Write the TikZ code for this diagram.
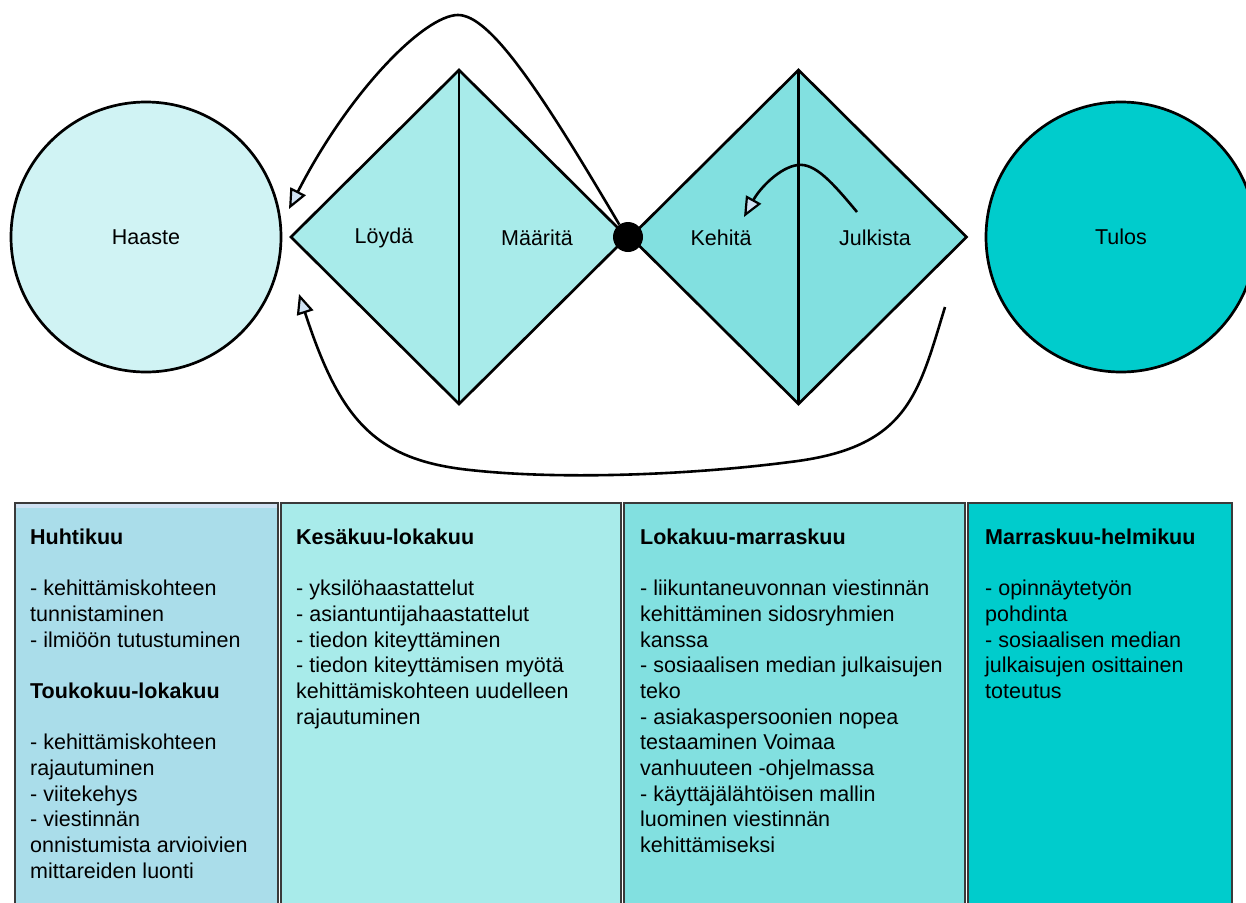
\documentclass[tikz,border=0pt]{standalone}
\usepackage{fontspec}
\setmainfont{Liberation Sans}
\usetikzlibrary{shapes.geometric,arrows.meta}
\definecolor{haastecol}{HTML}{D0F3F4}
\definecolor{loydacol}{HTML}{A8EBEA}
\definecolor{kehitacol}{HTML}{82E0E0}
\definecolor{tuloscol}{HTML}{00CCCC}
\definecolor{box1col}{HTML}{AADDEA}
\definecolor{stripcol}{HTML}{CFE2F3}
\definecolor{tipcol}{HTML}{CFE2F3}
\definecolor{bordercol}{HTML}{3A3A3A}
\tikzset{
  big/.style={font=\fontsize{21.5}{25.7}\selectfont},
  ball/.style={circle, draw=black, line width=2.7pt, minimum size=270pt, inner sep=0pt, outer sep=0pt, big},
  dia/.style={diamond, draw=black, line width=2.7pt, minimum width=336pt, minimum height=334pt, inner sep=0pt, outer sep=0pt},
  divider/.style={line width=2.7pt},
  lbl/.style={big, inner sep=0pt},
  flow/.style={line width=2.6pt, -{Triangle[length=20pt,width=17pt,fill=tipcol,line width=2.2pt]}, line join=miter},
  panel/.style={draw=bordercol, line width=1.3pt, anchor=north west, inner sep=0pt, outer sep=0pt, minimum height=420pt},
  ptext/.style={big, anchor=north west, align=left, inner sep=0pt},
}
\begin{document}
\begin{tikzpicture}[x=1pt,y=-1pt]
\useasboundingbox (0,0) rectangle (1246,902);
\clip (0,0) rectangle (1246,902);
\fill[white] (0,0) rectangle (1246,902);

% circles
\node[ball, fill=haastecol] (haaste) at (146,237) {Haaste};
\node[ball, fill=tuloscol] (tulos) at (1121,237) {Tulos};

% diamonds
\node[dia, fill=loydacol] (d1) at (459,237) {};
\draw[divider] (d1.north) -- (d1.south);
\node[dia, fill=kehitacol] (d2) at (798.5,237) {};
\draw[divider] (d2.north) -- (d2.south);
\node[circle, fill=black, minimum size=30pt, inner sep=0pt] (dot) at (628,237) {};

\node[lbl] (loyda) at (384,238) {Löydä};
\node[lbl] (maarita) at (537,238) {Määritä};
\node[lbl] (kehita) at (721,238) {Kehitä};
\node[lbl] (julkista) at (875,238) {Julkista};

% arrows
\coordinate (toptip) at (289,209);
\coordinate (bottail) at (945,307);
\coordinate (bottip) at (299,294);
\coordinate (smalltail) at (857,212);
\coordinate (smalltip) at (744,217);

\draw[flow] (dot.125) .. controls (540,90) and (490,15) .. (458,15)
  .. controls (425,15) and (350,90) .. (toptip);
\draw[flow] (bottail) .. controls (918,395) and (908,448) .. (790,462)
  .. controls (690,475) and (560,480) .. (470,470)
  .. controls (375,460) and (340,420) .. (bottip);
\draw[flow] (smalltail) .. controls (832,182) and (815,163) .. (798,165)
  .. controls (780,167) and (760,188) .. (smalltip);

% bottom panels
\node[panel, fill=box1col, minimum width=263pt] (p1) at (15,503) {};
\fill[stripcol] (15.8,503.8) rectangle (277.2,507.5);
\node[panel, fill=loydacol, minimum width=340pt] (p2) at (281,503) {};
\node[panel, fill=kehitacol, minimum width=341pt] (p3) at (624,503) {};
\node[panel, fill=tuloscol, minimum width=264pt] (p4) at (968,503) {};

\node[ptext] (t1) at (30,528.5) {\textbf{Huhtikuu}\\[25.7pt]
- kehittämiskohteen\\
tunnistaminen\\
- ilmiöön tutustuminen\\[25.7pt]
\textbf{Toukokuu-lokakuu}\\[25.7pt]
- kehittämiskohteen\\
rajautuminen\\
- viitekehys\\
- viestinnän\\
onnistumista arvioivien\\
mittareiden luonti};

\node[ptext] (t2) at (296,528.5) {\textbf{Kesäkuu-lokakuu}\\[25.7pt]
- yksilöhaastattelut\\
- asiantuntijahaastattelut\\
- tiedon kiteyttäminen\\
- tiedon kiteyttämisen myötä\\
kehittämiskohteen uudelleen\\
rajautuminen};

\node[ptext] (t3) at (640,528.5) {\textbf{Lokakuu-marraskuu}\\[25.7pt]
- liikuntaneuvonnan viestinnän\\
kehittäminen sidosryhmien\\
kanssa\\
- sosiaalisen median julkaisujen\\
teko\\
- asiakaspersoonien nopea\\
testaaminen Voimaa\\
vanhuuteen -ohjelmassa\\
- käyttäjälähtöisen mallin\\
luominen viestinnän\\
kehittämiseksi};

\node[ptext] (t4) at (985,528.5) {\textbf{Marraskuu-helmikuu}\\[25.7pt]
- opinnäytetyön\\
pohdinta\\
- sosiaalisen median\\
julkaisujen osittainen\\
toteutus};
\end{tikzpicture}
\end{document}
